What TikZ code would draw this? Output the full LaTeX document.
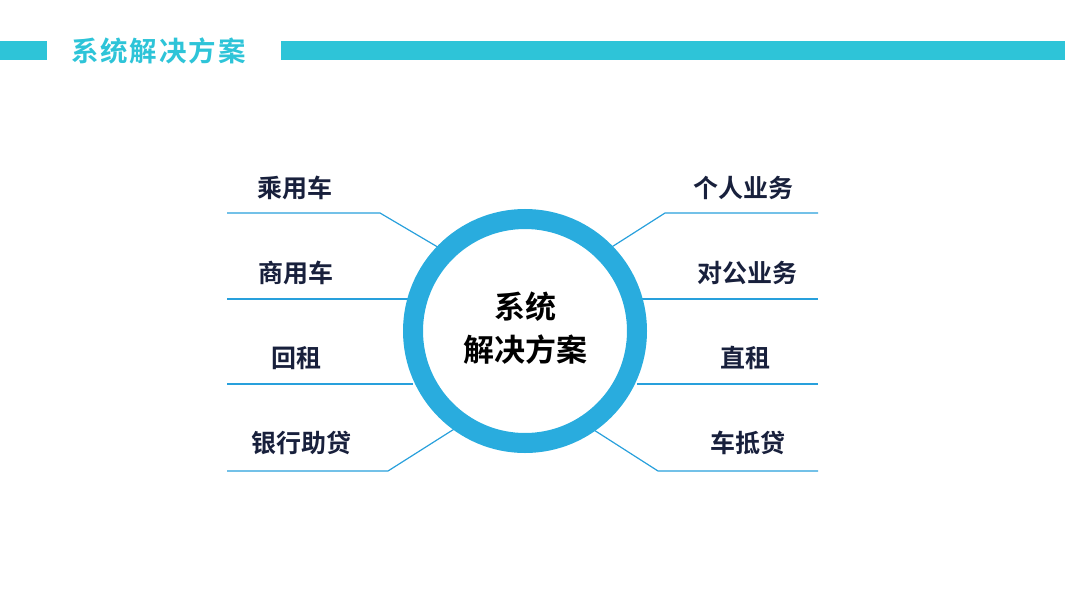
\documentclass[tikz,border=0pt]{standalone}
\usepackage{fontspec}
\newfontfamily\cjk{Noto Sans CJK SC Bold}
\definecolor{barcyan}{RGB}{46,196,216}
\definecolor{ringblue}{RGB}{41,172,222}
\definecolor{linkblue}{RGB}{40,160,220}
\definecolor{labelnavy}{RGB}{24,32,60}
\tikzset{
  item/.style={font=\cjk\fontsize{25}{25}\selectfont, text=labelnavy, inner sep=0pt},
  link/.style={linkblue, line width=1.2pt},
}
\begin{document}
\begin{tikzpicture}[x=1pt,y=-1pt]
  \useasboundingbox (0,0) rectangle (1065,597);
  % header
  \fill[barcyan] (0,41) rectangle (47,60);
  \fill[barcyan] (281,41) rectangle (1065,60);
  \node[font=\cjk\fontsize{27.5}{27.5}\selectfont, text=barcyan, inner sep=0pt] (title) at (158.5,51)
    {系\kern2pt 统\kern2pt 解\kern2pt 决\kern2pt 方\kern2pt 案};
  % centre
  \node[circle, minimum size=224pt, inner sep=0pt, outer sep=0pt] (hub) at (525,331) {};
  % left side
  \node[item] (l1) at (295,188) {乘用车};
  \node[item] (l2) at (296,273) {商用车};
  \node[item] (l3) at (296,358) {回租};
  \node[item] (l4) at (301,443) {银行助贷};
  \coordinate (l1a) at (227,213); \coordinate (l1b) at (380,213);
  \coordinate (l2a) at (227,299);
  \coordinate (l3a) at (227,384);
  \coordinate (l4a) at (227,471); \coordinate (l4b) at (388,471);
  \draw[link] (l1a) -- (l1b) -- (hub.135);
  \draw[link] (l2a) -- (l2a -| hub.west);
  \draw[link] (l3a) -- (l3a -| hub.west);
  \draw[link] (l4a) -- (l4b) -- (hub.236);
  % right side
  \node[item] (r1) at (743,188) {个人业务};
  \node[item] (r2) at (747,273) {对公业务};
  \node[item] (r3) at (745,358) {直租};
  \node[item] (r4) at (748,443) {车抵贷};
  \coordinate (r1a) at (818,213); \coordinate (r1b) at (665,213);
  \coordinate (r2a) at (818,299);
  \coordinate (r3a) at (818,384);
  \coordinate (r4a) at (818,471); \coordinate (r4b) at (658,471);
  \draw[link] (r1a) -- (r1b) -- (hub.45);
  \draw[link] (r2a) -- (r2a -| hub.east);
  \draw[link] (r3a) -- (r3a -| hub.east);
  \draw[link] (r4a) -- (r4b) -- (hub.-57);
  % ring on top
  \draw[ringblue, line width=20pt] (hub.center) circle (112);
  \node[font=\cjk\fontsize{31}{43}\selectfont, align=center, inner sep=0pt] (core) at (525,328) {系统\\解决方案};
\end{tikzpicture}
\end{document}
